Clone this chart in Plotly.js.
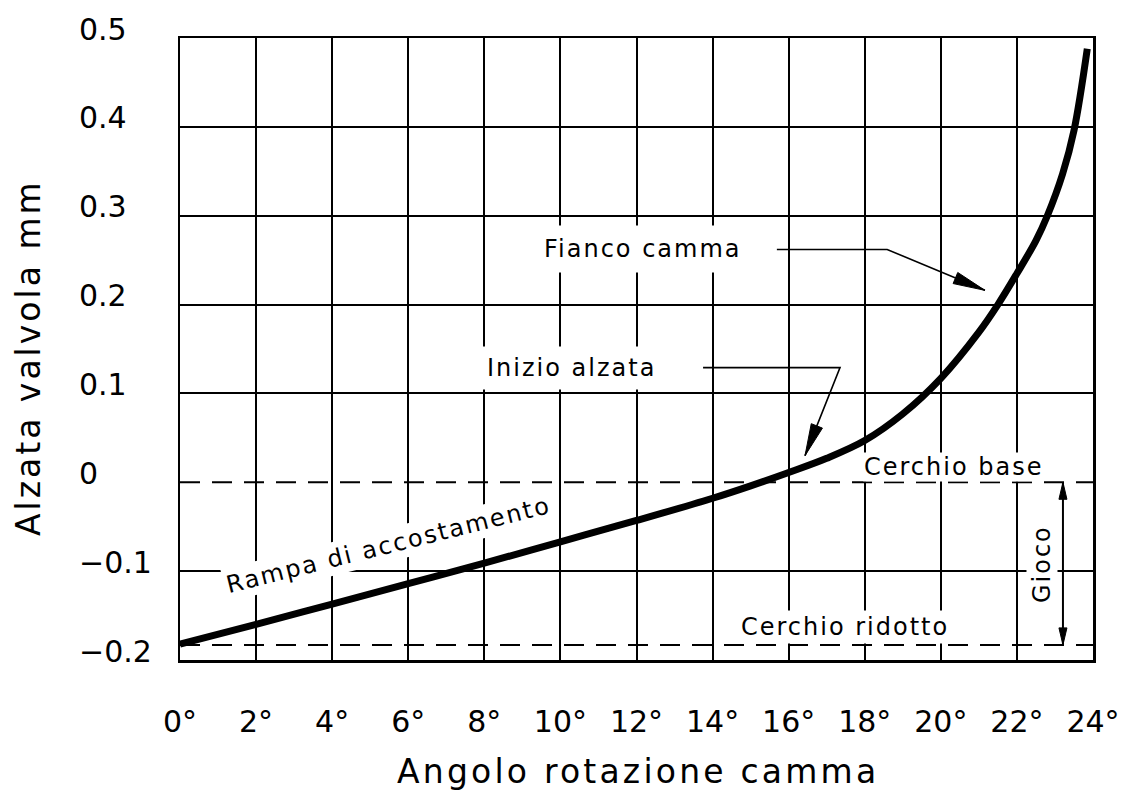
<!DOCTYPE html>
<html>
<head>
<meta charset="utf-8">
<script src="https://cdn.plot.ly/plotly-3.0.1.min.js"></script>
<style>
  html, body { margin: 0; padding: 0; background: #fff; }
  #chart { width: 1130px; height: 796px; }
</style>
</head>
<body>
<div id="chart"></div>
<script>
// Cam rotation angle (degrees) and valve lift (mm) along the opening ramp and flank
const angleDeg = [0, 2, 4, 6, 8, 10, 12, 14, 15, 16, 17, 18, 19, 20, 21, 21.5, 22, 22.5, 22.8, 23.2, 23.5, 23.85];
const liftMm   = [-0.182, -0.160, -0.137, -0.114, -0.091, -0.067, -0.043, -0.018, -0.004, 0.011, 0.027, 0.047, 0.077, 0.117, 0.169, 0.200, 0.235, 0.272, 0.300, 0.347, 0.396, 0.488];

// Reference circles: base circle and reduced circle (difference = valve clearance)
const baseCircle = 0;
const reducedCircle = -0.183;

// Axis ticks
const xTickVals = [0, 2, 4, 6, 8, 10, 12, 14, 16, 18, 20, 22, 24];
const xTickText = ['0°', '2°', '4°', '6°', '8°', '10°', '12°', '14°', '16°', '18°', '20°', '22°', '24°'];
const yTickVals = [-0.2, -0.1, 0, 0.1, 0.2, 0.3, 0.4, 0.5];
const yTickText = ['−0.2', '−0.1', '0', '0.1', '0.2', '0.3', '0.4', '0.5'];

const W = 1130, H = 796;
const M = { l: 180, r: 37, t: 38, b: 136 };
const xRange = [0, 24], yRange = [-0.2, 0.5];
const pxPerX = (W - M.l - M.r) / (xRange[1] - xRange[0]);
const pxPerY = (H - M.t - M.b) / (yRange[1] - yRange[0]);

const FONT = 'DejaVu Sans, Liberation Sans, sans-serif';
const spaced = (s, px) => '<span style="letter-spacing:' + px + 'px">' + s + '</span>';

// Filled narrow arrowhead, built in data units from tip and tail direction
function arrowHead(tail, tip, len, halfW) {
  const dx = (tip[0] - tail[0]) * pxPerX;
  const dy = -(tip[1] - tail[1]) * pxPerY;
  const n = Math.hypot(dx, dy);
  const ux = dx / n, uy = dy / n;
  const bx = -len * ux, by = -len * uy;
  const px = -uy * halfW, py = ux * halfW;
  const toData = (sx, sy) => [tip[0] + sx / pxPerX, tip[1] - sy / pxPerY];
  const a = toData(bx + px, by + py);
  const b = toData(bx - px, by - py);
  return {
    type: 'path', xref: 'x', yref: 'y', layer: 'above',
    path: `M${tip[0]},${tip[1]} L${a[0]},${a[1]} L${b[0]},${b[1]} Z`,
    fillcolor: '#000', line: { color: '#000', width: 1 }
  };
}
function leader(points) {
  return {
    type: 'path', xref: 'x', yref: 'y', layer: 'above',
    path: points.map((p, i) => (i ? 'L' : 'M') + p[0] + ',' + p[1]).join(' '),
    line: { color: '#000', width: 1.6 }
  };
}

const curve = {
  x: angleDeg, y: liftMm, type: 'scatter', mode: 'lines',
  line: { color: '#000', width: 7, shape: 'spline', smoothing: 1 },
  hoverinfo: 'skip', showlegend: false
};

// Leader arrows
const flankPts = [[15.69, 0.262], [18.59, 0.262], [21.16, 0.216]];
const startPts = [[13.75, 0.129], [17.35, 0.129], [16.43, 0.030]];
const clearanceX = 23.21;

const shapes = [
  { type: 'line', xref: 'paper', x0: 0, x1: 1, yref: 'y', y0: baseCircle, y1: baseCircle,
    layer: 'above', line: { color: '#000', width: 2, dash: '20px,12px' } },
  { type: 'line', xref: 'paper', x0: 0, x1: 1, yref: 'y', y0: reducedCircle, y1: reducedCircle,
    layer: 'above', line: { color: '#000', width: 2, dash: '20px,12px' } },
  leader(flankPts), arrowHead(flankPts[1], flankPts[2], 32, 6),
  leader(startPts), arrowHead(startPts[1], startPts[2], 32, 6),
  { type: 'line', xref: 'x', yref: 'y', x0: clearanceX, x1: clearanceX, y0: baseCircle, y1: reducedCircle,
    layer: 'above', line: { color: '#000', width: 2 } },
  arrowHead([clearanceX, reducedCircle], [clearanceX, baseCircle], 17, 4),
  arrowHead([clearanceX, baseCircle], [clearanceX, reducedCircle], 17, 4)
];

const label = (text, x, y, extra) => Object.assign({
  text: spaced(text, 2), x: x, y: y, xref: 'x', yref: 'y', showarrow: false,
  font: { family: FONT, size: 24, color: '#000' }, bgcolor: '#fff', borderpad: 0,
  xanchor: 'center', yanchor: 'middle'
}, extra || {});

const annotations = [
  // axis titles
  { text: spaced('Angolo rotazione camma', 3.2), xref: 'paper', yref: 'paper', x: 0.5016, y: -0.18,
    xanchor: 'center', yanchor: 'middle', showarrow: false, font: { family: FONT, size: 33, color: '#000' } },
  { text: spaced('Alzata valvola mm', 3), xref: 'paper', yref: 'paper', x: -0.1665, y: 0.487, textangle: -90,
    xanchor: 'center', yanchor: 'middle', showarrow: false, font: { family: FONT, size: 33, color: '#000' } },
  label('Fianco camma', 12.17, 0.262, { borderpad: 9 }),
  label('Inizio alzata', 10.3, 0.129, { borderpad: 7 }),
  label('Rampa di accostamento', 5.49, -0.071, { textangle: -14, borderpad: 2 }),
  label('Cerchio base', 20.32, 0.0175),
  label('Cerchio ridotto', 17.48, -0.163, { borderpad: 2 }),
  label('Gioco', 22.66, -0.092, { textangle: -90, borderpad: 1 })
];

// Y tick labels, left aligned beside the axis
yTickVals.forEach((v, i) => {
  annotations.push({
    text: yTickText[i], xref: 'paper', yref: 'y', x: (77 - M.l) / (W - M.l - M.r), y: v, yshift: 9,
    xanchor: 'left', yanchor: 'middle', showarrow: false, font: { family: FONT, size: 30, color: '#000' }
  });
});

const layout = {
  width: W, height: H, margin: M,
  paper_bgcolor: '#fff', plot_bgcolor: '#fff',
  showlegend: false,
  xaxis: {
    range: xRange, tickmode: 'array', tickvals: xTickVals, ticktext: xTickText,
    showgrid: true, gridcolor: '#000', gridwidth: 2, zeroline: false,
    showline: true, linecolor: '#000', linewidth: 2.5, mirror: true, ticks: '',
    tickfont: { family: FONT, size: 30, color: '#000' }, ticklabelstandoff: 33
  },
  yaxis: {
    range: yRange, tickmode: 'array', tickvals: yTickVals.filter(v => v !== baseCircle),
    showticklabels: false, showgrid: true, gridcolor: '#000', gridwidth: 2, zeroline: false,
    showline: true, linecolor: '#000', linewidth: 2.5, mirror: true, ticks: ''
  },
  shapes: shapes,
  annotations: annotations
};

Plotly.newPlot('chart', [curve], layout, { staticPlot: true, displayModeBar: false });
</script>
</body>
</html>
